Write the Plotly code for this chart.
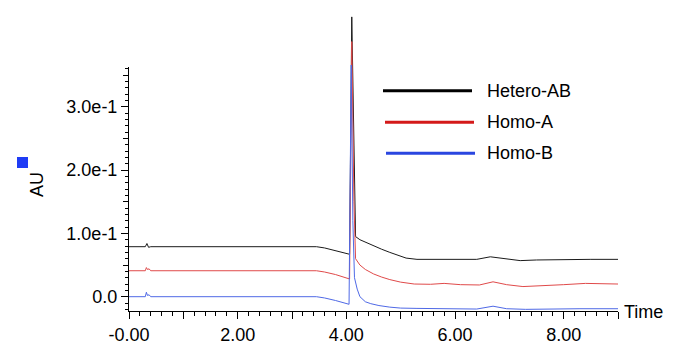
import plotly.graph_objects as go

# ---- data ----
series_names = ["Hetero-AB", "Homo-A", "Homo-B"]
series_colors = ["#000000", "#d41a1a", "#2a46e0"]        # legend samples
series_line_colors = ["#1a1a1a", "#e04a4a", "#4f69e6"]   # thin trace lines

hetero_x = [0, 0.30, 0.33, 0.36, 0.40, 3.0, 3.45, 3.6, 3.8, 3.95, 4.06, 4.10, 4.14, 4.17,
            4.25, 4.35, 4.5, 4.65, 4.8, 4.95, 5.1, 5.3, 5.6, 6.0, 6.4, 6.65, 6.9, 7.2, 7.5,
            8.0, 8.5, 9.0]
hetero_y = [0.079, 0.079, 0.084, 0.078, 0.079, 0.079, 0.079, 0.077, 0.073, 0.070, 0.067,
            0.442, 0.20, 0.095, 0.090, 0.086, 0.080, 0.075, 0.070, 0.065, 0.061, 0.059,
            0.059, 0.059, 0.059, 0.063, 0.060, 0.057, 0.058, 0.059, 0.059, 0.059]

homoa_x = [0, 0.30, 0.32, 0.34, 0.37, 0.40, 3.45, 3.6, 3.8, 3.95, 4.06, 4.10, 4.14, 4.17,
           4.25, 4.35, 4.5, 4.65, 4.8, 5.0, 5.25, 5.55, 5.8, 6.1, 6.45, 6.7, 6.95, 7.25,
           7.6, 8.0, 8.4, 8.7, 9.0]
homoa_y = [0.041, 0.041, 0.046, 0.043, 0.044, 0.041, 0.041, 0.039, 0.035, 0.031, 0.028,
           0.403, 0.15, 0.060, 0.050, 0.043, 0.036, 0.031, 0.027, 0.023, 0.020, 0.0196,
           0.021, 0.019, 0.0185, 0.0235, 0.019, 0.016, 0.017, 0.019, 0.021, 0.020, 0.020]

homob_x = [0, 0.30, 0.32, 0.34, 0.37, 0.40, 3.45, 3.6, 3.8, 3.95, 4.05, 4.09, 4.12, 4.15,
           4.20, 4.25, 4.35, 4.45, 4.6, 4.8, 5.0, 5.3, 5.6, 6.0, 6.4, 6.7, 6.95, 7.3, 7.8,
           8.3, 9.0]
homob_y = [0.0, 0.0, 0.007, 0.002, 0.003, 0.0, 0.0, -0.002, -0.006, -0.009, -0.012, 0.366,
           0.12, 0.03, 0.012, 0.0, -0.008, -0.011, -0.014, -0.0165, -0.018, -0.0185,
           -0.019, -0.019, -0.0195, -0.015, -0.019, -0.020, -0.019, -0.019, -0.019]

x_tickvals = [0, 1, 2, 3, 4, 5, 6, 7, 8, 9]
x_ticktext = ["-0.00", "", "2.00", "", "4.00", "", "6.00", "", "8.00", ""]
y_tickvals = [0.0, 0.1, 0.2, 0.3]
y_ticktext = ["0.0", "1.0e-1", "2.0e-1", "3.0e-1"]
y_midticks = [0.05, 0.15, 0.25, 0.35]

FONT = "Liberation Sans, Arial, sans-serif"

# ---- figure ----
# the page body adds an 8px offset, so layout is expressed in screen pixels minus OFF
OFF = 8
W, H = 683, 358
SCR_L, SCR_R, SCR_T, SCR_B = 129, 618, 10, 311   # plot area on screen
ML = SCR_L - OFF
MR = W - (SCR_R - OFF)
MT = SCR_T - OFF
MB = H - (SCR_B - OFF)
PW, PH = W - ML - MR, H - MT - MB


def px_x(p):
    return (p - OFF - ML) / PW


def px_y(p):
    return (H - MB - (p - OFF)) / PH


fig = go.Figure()
# empty helper traces so the tick-only axes get drawn
fig.add_trace(go.Scatter(x=[None], y=[None], yaxis="y", showlegend=False,
                         hoverinfo="skip"))
fig.add_trace(go.Scatter(x=[None], y=[None], yaxis="y3", showlegend=False,
                         hoverinfo="skip"))
for xs, ys, name, col in zip([hetero_x, homoa_x, homob_x],
                             [hetero_y, homoa_y, homob_y],
                             series_names, series_line_colors):
    fig.add_trace(go.Scatter(x=xs, y=ys, mode="lines", name=name,
                             line=dict(color=col, width=1), yaxis="y2",
                             showlegend=False))

y_bottom = -0.0226
y2_top = 0.4529
y_top = 0.3629
y_dom_top = px_y(67)

fig.update_layout(
    width=W, height=H,
    margin=dict(l=ML, r=MR, t=MT, b=MB, autoexpand=False),
    paper_bgcolor="white", plot_bgcolor="white",
    font=dict(family=FONT, size=18, color="black"),
    xaxis=dict(range=[0, 9.0], tickmode="array", tickvals=x_tickvals,
               ticktext=x_ticktext, ticks="outside", ticklen=7, tickcolor="black",
               showline=True, linecolor="black", linewidth=1, showgrid=False,
               zeroline=False, anchor="y", automargin=False,
               minor=dict(dtick=0.2, tick0=0, ticks="outside", ticklen=4,
                          tickcolor="black", showgrid=False),
               tickfont=dict(size=18)),
    yaxis=dict(range=[y_bottom, y_top], domain=[0, y_dom_top], anchor="x",
               tickmode="array", tickvals=y_tickvals, ticktext=y_ticktext,
               ticks="outside", ticklen=7, tickcolor="black", showline=True,
               linecolor="black", linewidth=1, showgrid=False, zeroline=False,
               automargin=False,
               minor=dict(dtick=0.01, tick0=0, ticks="outside", ticklen=3,
                          tickcolor="black", showgrid=False),
               tickfont=dict(size=18)),
    yaxis3=dict(range=[y_bottom, y_top], overlaying="y", anchor="x", side="left",
                tickmode="array", tickvals=y_midticks, showticklabels=False,
                ticks="outside", ticklen=5, tickcolor="black", showline=False,
                showgrid=False, zeroline=False, automargin=False),
    yaxis2=dict(range=[y_bottom, y2_top], domain=[0, 1], anchor="x", visible=False,
                showgrid=False, zeroline=False, automargin=False),
    showlegend=False,
)

# legend drawn as line samples + labels
legend_rows = [(90.7, 383, 472), (122.3, 385, 474), (153.3, 386, 475)]
shapes = []
annotations = []
for (py, x0, x1), name, col in zip(legend_rows, series_names, series_colors):
    shapes.append(dict(type="line", xref="paper", yref="paper",
                       x0=px_x(x0), x1=px_x(x1), y0=px_y(py), y1=px_y(py),
                       line=dict(color=col, width=3)))
    annotations.append(dict(text=name, xref="paper", yref="paper", x=px_x(485),
                            y=px_y(py), xanchor="left", yanchor="middle",
                            showarrow=False, font=dict(size=18, color="black")))

# blue square by the AU label
shapes.append(dict(type="rect", xref="paper", yref="paper",
                   x0=px_x(17), x1=px_x(28), y0=px_y(168), y1=px_y(157),
                   fillcolor="#1f3cf5", line=dict(width=0)))
annotations.append(dict(text="AU", xref="paper", yref="paper", x=px_x(37), y=px_y(185),
                        textangle=-90, showarrow=False, xanchor="center",
                        yanchor="middle", font=dict(size=18, color="black")))
annotations.append(dict(text="Time", xref="paper", yref="paper", x=px_x(622),
                        y=px_y(312), xanchor="left", yanchor="middle",
                        showarrow=False, font=dict(size=18, color="black")))

fig.update_layout(shapes=shapes, annotations=annotations)
fig.write_html("out.html")
